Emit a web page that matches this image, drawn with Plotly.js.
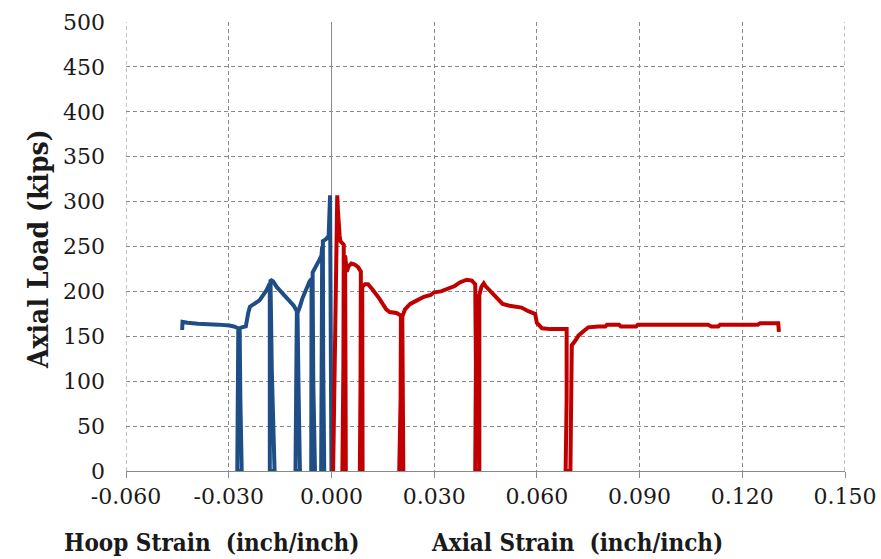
<!DOCTYPE html>
<html>
<head>
<meta charset="utf-8">
<script src="https://cdn.plot.ly/plotly-3.0.1.min.js"></script>
<style>
  html, body { margin: 0; padding: 0; background: #fff; }
  #chart { width: 881px; height: 559px; }
</style>
</head>
<body>
<div id="chart"></div>
<script>
// Hoop strain (inch/inch) vs axial load (kips) - blue series
const hoopStrain = [
  0, -0.0001, -0.0002, -0.0003, -0.0004,
  -0.0006, -0.0008, -0.0016, -0.0025,
  -0.0024, -0.0021, -0.0030, -0.0028, -0.0027,
  -0.0029, -0.0034, -0.0042, -0.0050, -0.0055,
  -0.0053, -0.0048, -0.0059, -0.0058, -0.0058,
  -0.0064, -0.0070, -0.0077, -0.0085, -0.0093, -0.0099,
  -0.0096, -0.0092, -0.0105, -0.0103, -0.0101,
  -0.0110, -0.0120, -0.0133, -0.0145, -0.0160, -0.0170, -0.0178,
  -0.0174, -0.0166, -0.0180, -0.0180, -0.0180,
  -0.0185, -0.0190, -0.0210, -0.0238, -0.0243, -0.0246, -0.0250, -0.0262, -0.0268,
  -0.0266, -0.0262, -0.0275, -0.0273, -0.0272,
  -0.0285, -0.0298, -0.0330, -0.0360, -0.0390, -0.0420, -0.0435, -0.0436
];
const hoopLoad = [
  0, 100, 200, 270, 307,
  285, 262, 258, 256,
  120, 0, 0, 130, 250,
  240, 236, 231, 226, 221,
  100, 0, 0, 120, 214,
  211, 206, 200, 192, 182, 176,
  90, 0, 0, 100, 178,
  184, 188, 193, 198, 205, 211, 213,
  110, 0, 0, 110, 209,
  205, 201, 190, 183, 176, 165, 161, 160, 159,
  80, 0, 0, 80, 159,
  161, 162, 163, 163, 164, 165, 166, 157
];

// Axial strain (inch/inch) vs axial load (kips) - red series
const axialStrain = [
  0.0005, 0.0008, 0.0012, 0.0015, 0.0017,
  0.0019, 0.0021, 0.0024, 0.0026, 0.0033, 0.0036,
  0.0035, 0.0032, 0.0042, 0.0041, 0.0040,
  0.0045, 0.0050, 0.0058, 0.0068, 0.0078, 0.0086,
  0.0085, 0.0083, 0.0091, 0.0090, 0.0090,
  0.0098, 0.0107, 0.0120, 0.0140, 0.0160, 0.0170, 0.0190, 0.0203,
  0.0202, 0.0198, 0.0210, 0.0209, 0.0207,
  0.0215, 0.0230, 0.0250, 0.0270, 0.0290, 0.0300, 0.0320, 0.0340, 0.0360, 0.0375, 0.0395, 0.0410, 0.0420,
  0.0422, 0.0420, 0.0432, 0.0431, 0.0432,
  0.0438, 0.0445, 0.0450, 0.0465, 0.0480, 0.0500, 0.0520, 0.0555, 0.0575, 0.0595, 0.0600, 0.0615, 0.0640, 0.0687,
  0.0687, 0.0684, 0.0698, 0.0700, 0.0702,
  0.0712, 0.0722, 0.0737, 0.0750, 0.0780, 0.0800, 0.0805, 0.0840, 0.0845, 0.0890, 0.0895,
  0.1100, 0.1110, 0.1130, 0.1135, 0.1245, 0.1252, 0.1305, 0.1307
];
const axialLoad = [
  0, 100, 200, 270, 307,
  290, 268, 262, 256, 254, 252,
  120, 0, 0, 120, 240,
  222, 228, 231, 230, 227, 222,
  100, 0, 0, 100, 205,
  208, 208, 202, 192, 180, 177, 176, 173,
  80, 0, 0, 100, 172,
  180, 186, 190, 194, 196, 199, 200, 203, 206, 210, 213, 212, 208,
  120, 0, 0, 120, 196,
  205, 209, 206, 200, 193, 186, 184, 182, 178, 175, 165, 159, 158, 158,
  80, 0, 0, 80, 140,
  145, 151, 156, 160, 161, 161, 163, 163, 161, 161, 163,
  163, 161, 161, 163, 163, 164.5, 164.5, 155
];

const xTickVals = [-0.06, -0.03, 0, 0.03, 0.06, 0.09, 0.12, 0.15];
const xTickText = ["-0.060", "-0.030", "0.000", "0.030", "0.060", "0.090", "0.120", "0.150"];
const yTickVals = [0, 50, 100, 150, 200, 250, 300, 350, 400, 450, 500];
const yTickText = ["0", "50", "100", "150", "200", "250", "300", "350", "400", "450", "500"];
const xRange = [-0.06, 0.15];
const yRange = [0, 500];

const yTitle = "Axial Load (kips)";
const hoopTitle = "Hoop Strain  (inch/inch)";
const axialTitle = "Axial Strain  (inch/inch)";

const fontBold = "DejaVu Serif Condensed";
const fontSerif = "DejaVu Serif";
const gridGray = "#8a8a8a";
const textColor = "#1a1a1a";

const traces = [
  {
    x: hoopStrain, y: hoopLoad, type: "scatter", mode: "lines",
    line: { color: "#1F4E87", width: 4 }, name: "Hoop"
  },
  {
    x: axialStrain, y: axialLoad, type: "scatter", mode: "lines",
    line: { color: "#C00000", width: 4 }, name: "Axial"
  }
];

const edgeShapes = [xRange[0], xRange[1]].map(v => ({
  type: "line", xref: "x", yref: "paper", x0: v, x1: v, y0: 0, y1: 1,
  line: { color: gridGray, width: 1, dash: "4px,3px" }, layer: "below"
}));

const layout = {
  width: 881, height: 559,
  margin: { l: 126, r: 36, t: 22, b: 88 },
  paper_bgcolor: "#ffffff",
  plot_bgcolor: "#ffffff",
  showlegend: false,
  font: { family: fontSerif, color: textColor },
  xaxis: {
    range: xRange,
    tickmode: "array", tickvals: xTickVals, ticktext: xTickText,
    showgrid: true, gridcolor: gridGray, gridwidth: 1, griddash: "4px,3px",
    zeroline: true, zerolinecolor: gridGray, zerolinewidth: 1,
    showline: true, linecolor: gridGray, linewidth: 1,
    ticks: "outside", ticklen: 6, tickcolor: gridGray,
    tickfont: { family: fontSerif, size: 22, color: textColor },
    fixedrange: true
  },
  yaxis: {
    range: yRange,
    tickmode: "array", tickvals: yTickVals, ticktext: yTickText,
    showgrid: true, gridcolor: gridGray, gridwidth: 1, griddash: "4px,3px",
    zeroline: false, showline: false,
    ticks: "", ticklabelstandoff: 20,
    tickfont: { family: fontSerif, size: 22, color: textColor },
    fixedrange: true
  },
  shapes: edgeShapes,
  annotations: [
    {
      text: yTitle, xref: "paper", yref: "paper",
      x: -0.122, y: 0.495, xanchor: "center", yanchor: "middle",
      textangle: -90, showarrow: false,
      font: { family: fontBold, size: 28, weight: "bold", color: textColor }
    },
    {
      text: hoopTitle, xref: "paper", yref: "paper",
      x: 0.119, y: -0.16, xanchor: "center", yanchor: "middle",
      showarrow: false,
      font: { family: fontBold, size: 24, weight: "bold", color: textColor }
    },
    {
      text: axialTitle, xref: "paper", yref: "paper",
      x: 0.627, y: -0.16, xanchor: "center", yanchor: "middle",
      showarrow: false,
      font: { family: fontBold, size: 24, weight: "bold", color: textColor }
    }
  ]
};

Plotly.newPlot("chart", traces, layout, { displayModeBar: false, staticPlot: true });
</script>
</body>
</html>
